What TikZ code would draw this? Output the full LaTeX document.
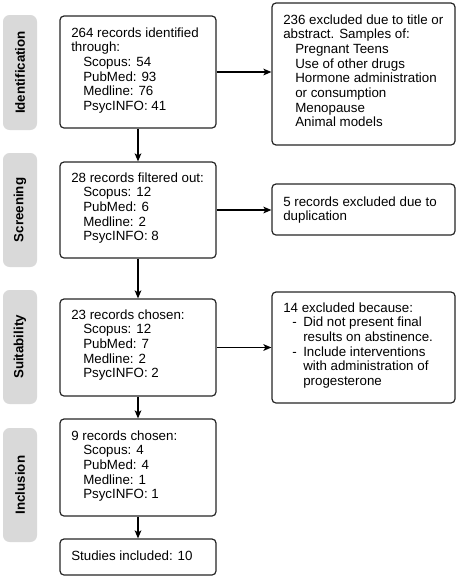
\documentclass[tikz,border=0pt]{standalone}
\usepackage{fontspec}
\setmainfont{Liberation Sans}
\usetikzlibrary{arrows.meta,fit}
\definecolor{sidegray}{HTML}{D9D9D9}
\newcommand{\ind}{\hspace*{9pt}}
\newcommand{\dsh}{\makebox[15pt][l]{\hspace*{6.75pt}-}}
\newcommand{\cnt}{\hspace*{15pt}}
\begin{document}
\begin{tikzpicture}[x=0.75pt,y=-0.75pt,
  box/.style={draw=black!85,line width=0.9pt,rounded corners=3pt,inner sep=0pt,fill=white},
  side/.style={fill=sidegray,rounded corners=5pt,inner sep=0pt},
  sidetext/.style={rotate=90,font=\fontsize{10}{11}\selectfont\bfseries,inner sep=0pt},
  txt/.style={anchor=base west,inner sep=0pt,font=\fontsize{10}{11}\selectfont},
  arr/.style={line width=1.1pt,-{Stealth[length=6pt,width=5pt,inset=1.5pt]}}]
\useasboundingbox (0,0) rectangle (462,579);
% side labels
\node[side,fit={(3,15)(37,130)}] (s1) {};
\node[sidetext] (s1t) at (s1.center) {Identification};
\node[side,fit={(3,153)(37,267)}] (s2) {};
\node[sidetext] (s2t) at (s2.center) {Screening};
\node[side,fit={(3,290)(37,404)}] (s3) {};
\node[sidetext] (s3t) at (s3.center) {Suitability};
\node[side,fit={(3,428)(37,542)}] (s4) {};
\node[sidetext] (s4t) at (s4.center) {Inclusion};
% main boxes
\node[box,fit={(60,16)(216,128)}] (id) {};
\node[box,fit={(272,3)(455,145)}] (ex1) {};
\node[box,fit={(60,162)(216,258)}] (sc) {};
\node[box,fit={(272,184)(455,235)}] (ex2) {};
\node[box,fit={(60,299)(216,396)}] (su) {};
\node[box,fit={(272,292)(455,403)}] (ex3) {};
\node[box,fit={(60,419)(216,516)}] (in) {};
\node[box,fit={(60,539)(216,575)}] (fin) {};
% texts
\node[txt] (idt) at (71,37.3) {\begin{tabular}[t]{@{}l@{}}264 records identified\\through:\\\ind Scopus: 54\\\ind PubMed: 93\\\ind Medline: 76\\\ind PsycINFO: 41\end{tabular}};
\node[txt] (ex1t) at (283,24) {\begin{tabular}[t]{@{}l@{}}236 excluded due to title or\\abstract. Samples of:\\\ind Pregnant Teens\\\ind Use of other drugs\\\ind Hormone administration\\\ind or consumption\\\ind Menopause\\\ind Animal models\end{tabular}};
\node[txt] (sct) at (71,182) {\begin{tabular}[t]{@{}l@{}}28 records filtered out:\\\ind Scopus: 12\\\ind PubMed: 6\\\ind Medline: 2\\\ind PsycINFO: 8\end{tabular}};
\node[txt] (ex2t) at (283,206) {\begin{tabular}[t]{@{}l@{}}5 records excluded due to\\duplication\end{tabular}};
\node[txt] (sut) at (71,319) {\begin{tabular}[t]{@{}l@{}}23 records chosen:\\\ind Scopus: 12\\\ind PubMed: 7\\\ind Medline: 2\\\ind PsycINFO: 2\end{tabular}};
\node[txt] (ex3t) at (283,312) {\begin{tabular}[t]{@{}l@{}}14 excluded because:\\\dsh Did not present final\\\cnt results on abstinence.\\\dsh Include interventions\\\cnt with administration of\\\cnt progesterone\end{tabular}};
\node[txt] (int) at (71,440) {\begin{tabular}[t]{@{}l@{}}9 records chosen:\\\ind Scopus: 4\\\ind PubMed: 4\\\ind Medline: 1\\\ind PsycINFO: 1\end{tabular}};
\node[txt] (fint) at (71,560) {Studies included: 10};
% arrows
\draw[arr] (id.south) -- (sc.north);
\draw[arr] (sc.south) -- (su.north);
\draw[arr] (su.south) -- (in.north);
\draw[arr] (in.south) -- (fin.north);
\draw[arr] (id.east) -- (id.east -| ex1.west);
\draw[arr] (sc.east) -- (sc.east -| ex2.west);
\draw[arr] (su.east) -- (su.east -| ex3.west);
\end{tikzpicture}
\end{document}
